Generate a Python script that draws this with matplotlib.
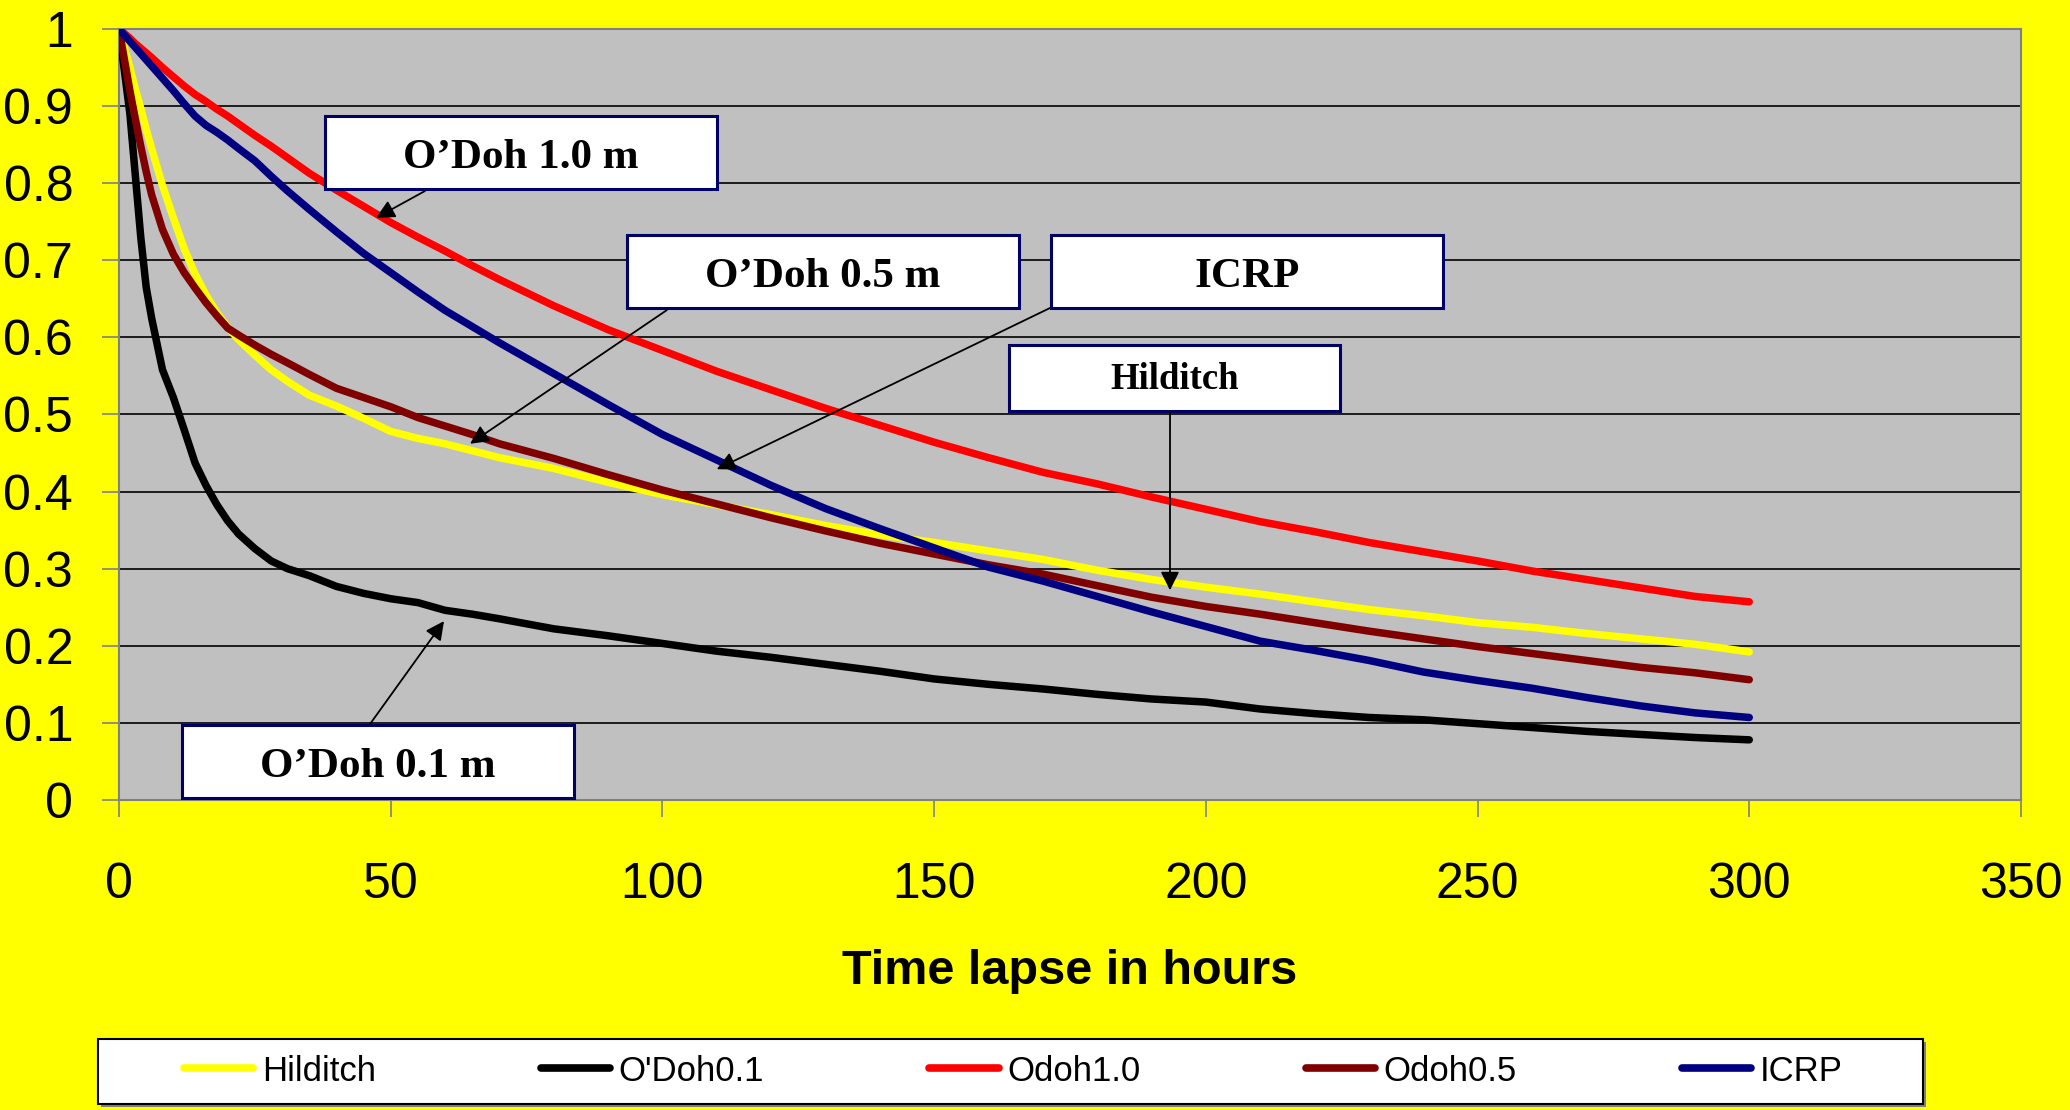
import matplotlib
matplotlib.use("Agg")
import matplotlib.pyplot as plt
from matplotlib.patches import Rectangle

# --- данные ---
hours = [0, 1, 2, 3, 4, 5, 6, 8, 10, 12, 14, 16, 18, 20, 22, 25, 28, 31, 35, 40, 45, 50, 55, 60, 65, 70,
         80, 90, 100, 110, 120, 130, 140, 150, 160, 170, 180, 190, 200, 210, 220, 230, 240, 250, 260, 270, 280, 290, 300]

hilditch = [1.0, 0.975, 0.95, 0.922, 0.897, 0.87, 0.845, 0.797, 0.755, 0.715, 0.682, 0.655, 0.632, 0.613, 0.597,
            0.577, 0.558, 0.543, 0.525, 0.511, 0.495, 0.478, 0.469, 0.462, 0.453, 0.444,
            0.430, 0.412, 0.396, 0.383, 0.370, 0.356, 0.344, 0.334, 0.323, 0.312, 0.298, 0.286, 0.276, 0.267,
            0.257, 0.247, 0.239, 0.230, 0.224, 0.216, 0.209, 0.202, 0.192]
odoh01 = [1.0, 0.945, 0.89, 0.81, 0.73, 0.665, 0.625, 0.558, 0.522, 0.480, 0.437, 0.408, 0.383, 0.362, 0.345,
          0.326, 0.310, 0.300, 0.291, 0.277, 0.268, 0.261, 0.256, 0.246, 0.241, 0.235,
          0.222, 0.213, 0.203, 0.193, 0.185, 0.176, 0.167, 0.157, 0.150, 0.144, 0.137, 0.131, 0.127, 0.118,
          0.112, 0.107, 0.104, 0.099, 0.094, 0.089, 0.085, 0.081, 0.078]
odoh10 = [1.0, 0.994, 0.988, 0.981, 0.975, 0.969, 0.963, 0.950, 0.938, 0.926, 0.915, 0.906, 0.896, 0.887, 0.877,
          0.862, 0.848, 0.833, 0.813, 0.791, 0.770, 0.749, 0.730, 0.712, 0.693, 0.675,
          0.641, 0.610, 0.583, 0.556, 0.532, 0.508, 0.486, 0.464, 0.444, 0.425, 0.410, 0.393, 0.377, 0.361,
          0.348, 0.334, 0.322, 0.310, 0.297, 0.286, 0.275, 0.264, 0.257]
odoh05 = [1.0, 0.96, 0.92, 0.883, 0.848, 0.815, 0.785, 0.740, 0.708, 0.684, 0.664, 0.645, 0.628, 0.612, 0.603,
          0.590, 0.578, 0.567, 0.552, 0.534, 0.522, 0.510, 0.496, 0.485, 0.474, 0.462,
          0.443, 0.422, 0.402, 0.384, 0.366, 0.349, 0.333, 0.319, 0.305, 0.293, 0.278, 0.263, 0.251, 0.241,
          0.230, 0.219, 0.209, 0.199, 0.190, 0.181, 0.172, 0.165, 0.156]
icrp = [1.0, 0.992, 0.984, 0.976, 0.968, 0.960, 0.952, 0.936, 0.920, 0.903, 0.887, 0.875, 0.866, 0.856, 0.845,
        0.829, 0.809, 0.790, 0.766, 0.737, 0.709, 0.684, 0.659, 0.635, 0.614, 0.593,
        0.553, 0.513, 0.474, 0.441, 0.408, 0.378, 0.352, 0.327, 0.302, 0.284, 0.264, 0.244, 0.225, 0.206,
        0.194, 0.181, 0.166, 0.155, 0.145, 0.133, 0.122, 0.113, 0.107]

series = [("Hilditch", hilditch, "#FFFF00"), ("O'Doh0.1", odoh01, "#000000"), ("Odoh1.0", odoh10, "#FF0000"),
          ("Odoh0.5", odoh05, "#800000"), ("ICRP", icrp, "#000080")]

# подписи-выноски: текст, рамка (доли осей), начало стрелки (доли осей), цель (данные), размер шрифта
callouts = [
    ("O\u2019Doh 1.0 m", (0.1083, 0.7925, 0.2061, 0.0947), (0.1609, 0.7899), (47.3, 0.755), 31),
    ("O\u2019Doh 0.5 m", (0.2671, 0.6381, 0.2061, 0.0947), (0.2881, 0.6355), (64.6, 0.462), 31),
    ("ICRP", (0.4900, 0.6381, 0.2061, 0.0947), (0.4895, 0.6381), (110, 0.429), 31),
    ("Hilditch", (0.4679, 0.5045, 0.1741, 0.0856), (0.5526, 0.5045), (193.4, 0.272), 26.5),
    ("O\u2019Doh 0.1 m", (0.0331, 0.0026, 0.2061, 0.0947), (0.1320, 0.0986), (59.8, 0.232), 31),
]

plt.rcParams['font.family'] = ['Liberation Sans', 'DejaVu Sans']

fig = plt.figure(figsize=(20.7, 11.1), dpi=100, facecolor="#FFFF00")
ax = fig.add_axes([0.0575, 0.2793, 0.9188, 0.6946])
ax.set_facecolor("#C0C0C0")

for name, vals, col in series:
    ax.plot(hours, vals, color=col, lw=5.4, label=name, solid_capstyle='round', solid_joinstyle='round', zorder=3)

ax.set_xlim(0, 350); ax.set_ylim(0, 1)
ax.set_xticks(range(0, 351, 50))
ax.set_yticks([i / 10 for i in range(11)])
ax.set_yticklabels(["0"] + [f"0.{i}" for i in range(1, 10)] + ["1"])
ax.yaxis.grid(True, color="black", lw=1.2, zorder=1)
ax.set_axisbelow(True)
for s in ax.spines.values(): s.set_color("#808080"); s.set_linewidth(1.5)
ax.tick_params(axis='both', labelsize=36, length=12, width=1.2, color="#808080", direction='out')
ax.tick_params(axis='y', pad=21)
ax.tick_params(axis='x', pad=33)
ax.set_xlabel("Time lapse in hours", fontsize=35, fontweight='bold', labelpad=29)

for txt, (bx, by, bw, bh), (sx, sy), target, fs in callouts:
    ax.add_patch(Rectangle((bx, by), bw, bh, transform=ax.transAxes, facecolor="white",
                           edgecolor="#000066", lw=2.2, zorder=5))
    dy = -0.007 if fs > 30 else -0.002  # текст в рамке сидит чуть ниже центра
    ax.text(bx + bw / 2, by + bh / 2 + dy, txt, transform=ax.transAxes, ha='center', va='center',
            fontsize=fs, fontweight='bold', family='Liberation Serif', zorder=6)
    ax.annotate("", xy=target, xycoords='data', xytext=(sx, sy), textcoords='axes fraction',
                arrowprops=dict(arrowstyle='-|>', color='black', lw=1.3, mutation_scale=28, shrinkA=0, shrinkB=0),
                zorder=6)

# рамка легенды отдельно (с серой тенью), сама легенда без рамки по центру
fig.add_artist(Rectangle((0.0488, 0.0027), 0.8816, 0.0586, transform=fig.transFigure,
                         facecolor="#808080", edgecolor="none"))
fig.add_artist(Rectangle((0.0473, 0.0054), 0.8816, 0.0586, transform=fig.transFigure,
                         facecolor="white", edgecolor="black", lw=1.5))
leg = fig.legend(loc='center', bbox_to_anchor=(0.4895, 0.0351), ncol=5, fontsize=25, frameon=False,
                 handlelength=2.0, handletextpad=0.25, columnspacing=4.75, borderpad=0, borderaxespad=0)
for h in leg.get_lines(): h.set_linewidth(5.5)

fig.savefig("out.png", dpi=100, facecolor=fig.get_facecolor())
